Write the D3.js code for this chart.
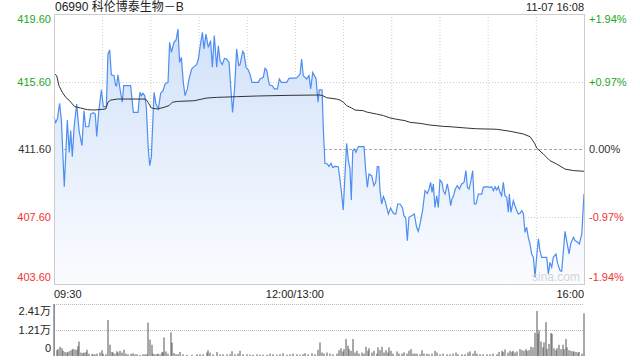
<!DOCTYPE html>
<html>
<head>
<meta charset="utf-8">
<script src="https://d3js.org/d3.v7.min.js"></script>
<style>
  body { margin: 0; background: #fff; }
  text { font-family: Arial, "Liberation Sans", "Noto Sans CJK SC", sans-serif; }
</style>
</head>
<body>
<div id="chart"></div>
<script>
// minutes since 09:30 on the trading clock (lunch break removed), price in HKD
var pricePoints = [
  [0,413.48],[1.0,413.18],[2.1,413.38],[3.5,414.31],[4.6,413.28],[6.4,409.37],[8.3,413.32],[9.5,411.40],
  [10.4,412.69],[11.4,411.15],[12.5,412.88],[14.1,414.27],[15.6,412.69],[17.4,411.80],[18.7,413.87],[19.7,412.92],
  [21.6,412.92],[22.8,413.67],[24.5,413.75],[25.7,413.67],[26.6,412.35],[27.8,413.77],[29.5,415.10],[30.7,414.11],
  [32.6,414.11],[33.6,417.23],[34.7,417.47],[35.7,416.00],[37.4,415.95],[38.4,415.35],[39.0,415.35],[39.8,416.00],
  [41.1,415.16],[42.5,414.37],[43.4,415.35],[47.7,415.35],[49.4,413.77],[52.3,413.77],[53.5,414.96],[54.4,414.76],
  [55.4,414.90],[56.5,414.76],[57.5,414.07],[58.7,411.60],[59.6,410.61],[60.6,411.11],[62.3,414.96],[63.5,414.27],
  [65.0,413.97],[66.4,414.90],[67.9,415.06],[69.1,415.45],[71.0,415.55],[72.0,417.92],[73.1,417.33],[74.7,417.92],
  [76.0,418.06],[77.2,418.71],[78.2,416.74],[79.3,417.03],[80.5,415.55],[81.6,414.76],[83.0,415.16],[84.1,415.75],
  [85.7,416.34],[87.2,416.48],[88.8,416.60],[89.9,416.93],[90.9,417.62],[92.4,418.51],[93.4,417.53],[94.6,418.41],
  [96.1,417.62],[97.5,418.02],[98.6,416.44],[99.8,418.32],[101.3,416.44],[102.3,417.72],[103.4,416.83],[104.8,416.60],
  [106.1,416.97],[107.5,416.93],[109.0,416.74],[110.0,415.35],[111.2,413.77],[112.5,415.29],[113.7,417.53],[115.0,416.54],
  [115.8,416.60],[117.5,417.39],[118.3,417.27],[119.6,416.44],[121.0,416.28],[122.0,416.04],[123.3,415.55],[127.2,415.55],
  [128.3,415.75],[130.3,415.85],[131.4,416.38],[132.4,416.28],[134.1,415.39],[135.9,415.35],[137.2,415.16],[139.1,415.16],
  [140.3,415.75],[141.5,415.55],[142.8,415.55],[144.9,415.55],[146.3,415.79],[151.1,415.81],[153.2,416.04],[154.2,416.93],
  [155.2,415.95],[157.3,415.75],[158.8,415.95],[159.8,415.16],[161.1,416.14],[162.5,415.89],[163.1,415.81],[164.4,414.37],
  [165.2,415.10],[166.9,415.10],[167.7,412.79],[168.7,410.75],[170.2,410.71],[171.2,410.57],[172.5,410.75],[173.5,410.51],
  [175.0,410.57],[177.0,410.55],[178.1,409.76],[179.1,408.93],[180.1,407.99],[181.2,410.12],[182.2,411.94],[183.3,410.91],
  [184.3,410.41],[185.1,408.58],[186.0,411.50],[187.0,411.60],[188.0,411.40],[189.5,411.74],[193.0,411.74],[194.1,410.32],
  [195.1,409.33],[196.1,410.12],[197.8,410.02],[199.2,409.43],[200.3,409.62],[201.3,410.55],[202.2,410.55],[203.0,409.13],
  [204.0,408.34],[205.1,408.78],[206.1,408.54],[208.2,407.75],[209.6,408.10],[210.9,407.85],[211.9,407.75],[212.9,407.75],
  [214.0,408.34],[215.4,408.34],[216.9,408.14],[217.9,407.65],[219.0,407.51],[220.0,406.17],[221.0,407.55],[222.7,407.65],
  [224.3,407.75],[225.8,406.96],[226.8,406.72],[227.9,407.16],[229.5,407.95],[231.0,409.13],[232.5,408.97],[233.5,409.23],
  [234.5,409.62],[235.4,409.03],[236.2,409.53],[237.2,408.14],[238.3,408.83],[239.3,408.14],[240.3,409.76],[241.6,409.62],
  [242.4,409.13],[243.5,408.93],[244.9,409.53],[245.9,409.03],[247.0,408.24],[247.8,408.64],[248.6,408.78],[249.9,409.23],
  [251.1,409.43],[252.4,409.23],[253.8,409.53],[255.3,409.62],[256.5,410.32],[257.4,409.33],[258.4,409.23],[259.4,409.62],
  [260.7,410.32],[261.7,408.34],[262.8,408.34],[264.2,408.93],[266.3,408.93],[267.3,409.33],[269.0,409.37],[271.1,409.33],
  [272.5,409.37],[273.6,409.13],[274.6,409.37],[275.6,409.17],[276.7,409.37],[277.7,409.03],[278.7,408.83],[279.8,409.62],
  [280.8,408.83],[281.9,408.74],[282.9,407.85],[283.5,408.93],[284.5,407.85],[286.0,408.54],[287.0,408.24],[288.1,407.95],
  [289.1,407.75],[290.2,407.79],[291.2,407.95],[292.2,407.79],[293.3,406.66],[294.3,406.96],[295.3,406.37],[296.4,405.97],
  [297.4,405.38],[298.5,405.18],[299.5,404.00],[300.5,405.18],[301.6,406.27],[302.6,405.58],[303.6,405.18],[306.8,405.18],
  [307.8,404.19],[308.8,404.88],[309.9,404.59],[310.9,405.18],[312.6,405.38],[313.4,404.88],[315.1,404.39],[316.1,404.35],
  [317.1,405.48],[318.2,406.72],[319.2,406.17],[320.7,405.38],[321.7,405.97],[323.4,406.37],[324.4,406.17],[326.1,406.07],
  [327.1,405.97],[328.6,406.56],[330,408.93]
];

var avgPoints = [
  [0,416.08],[1.7,415.95],[3.1,415.35],[5.2,414.96],[7.3,414.66],[9.3,414.50],[11.4,414.27],[12.9,414.11],
  [16.6,414.03],[20.8,413.93],[24.9,413.91],[32.2,413.97],[33.6,414.37],[35.3,414.50],[39.4,414.56],[57.1,414.56],
  [58.5,414.37],[60.6,414.03],[64.3,413.97],[68.5,414.07],[71.6,414.17],[73.7,414.37],[76.8,414.42],[87.2,414.46],
  [95.1,414.62],[101.3,414.66],[113.7,414.70],[126.2,414.74],[146.9,414.78],[165.6,414.80],[167.7,414.74],[169.8,414.64],
  [176.0,414.56],[178.1,414.50],[180.2,414.37],[182.2,414.17],[185.3,414.03],[187.4,413.91],[192.6,413.87],[194.7,413.79],
  [200.9,413.67],[205.1,413.58],[209.2,413.44],[213.4,413.36],[218.5,413.28],[221.7,413.18],[227.9,413.12],[234.1,413.02],
  [242.4,412.94],[246.6,412.92],[257.0,412.84],[263.2,412.80],[275.6,412.77],[284.0,412.65],[292.2,412.49],[296.4,412.33],
  [299.5,411.90],[300.5,411.66],[304.7,411.30],[308.8,410.91],[313.0,410.71],[318.2,410.41],[323.4,410.32],[330,410.28]
];

// volume in 万 shares
var volumeBars = [
  [0,2.41],[1.7,0.27],[2.7,0.32],[3.9,0.43],[4.8,0.36],[5.8,0.24],[7.0,0.19],[7.9,0.16],[8.9,0.19],[10.0,0.24],
  [11.0,0.29],[12.0,0.33],[13.1,0.30],[14.1,0.29],[15.1,0.46],[15.8,0.67],[16.8,0.16],[17.8,0.13],[18.9,0.16],[19.9,0.17],
  [20.7,0.29],[22.0,0.11],[23.5,0.08],[24.5,0.08],[25.5,0.08],[26.6,0.11],[28.6,0.16],[29.7,0.27],[30.7,0.11],[32.4,0.08],
  [33.8,1.67],[34.9,0.52],[35.9,0.19],[36.9,0.16],[38.0,0.11],[39.0,0.22],[40.0,0.16],[41.1,0.24],[42.1,0.16],[43.6,0.29],
  [44.8,0.11],[46.3,0.08],[47.7,0.10],[49.4,0.13],[50.4,0.08],[51.9,0.08],[53.5,0.05],[55.2,0.08],[56.7,0.08],[57.7,0.08],
  [58.7,1.55],[59.8,0.76],[60.8,0.52],[61.8,0.11],[62.9,0.08],[63.9,0.08],[64.9,0.11],[66.0,0.08],[67.0,0.19],[68.0,0.16],
  [68.7,0.86],[69.7,0.21],[71.2,0.11],[72.8,1.09],[73.7,0.62],[74.7,0.14],[76.0,0.08],[77.4,0.08],[78.6,0.19],[80.1,0.08],
  [82.6,0.06],[85.7,0.06],[88.8,0.08],[90.9,0.08],[93.0,0.08],[95.1,0.16],[96.1,0.27],[97.1,0.16],[99.2,0.08],[101.3,0.19],
  [103.4,0.08],[105.4,0.08],[107.5,0.08],[109.6,0.08],[111.0,0.22],[112.7,0.08],[114.8,0.11],[115.8,0.24],[117.9,0.08],[120.0,0.08],
  [122.0,0.06],[124.1,0.06],[126.2,0.08],[128.3,0.06],[130.3,0.06],[132.4,0.06],[134.5,0.11],[136.5,0.08],[138.6,0.06],[140.7,0.08],
  [142.8,0.13],[144.9,0.06],[146.9,0.08],[149.0,0.11],[151.1,0.08],[153.2,0.06],[155.2,0.08],[156.3,0.13],[158.3,0.08],[160.4,0.13],
  [162.5,0.08],[164.6,0.29],[165.6,0.63],[166.7,0.16],[168.1,0.11],[169.8,0.16],[171.8,0.11],[173.9,0.08],[176.0,0.11],[177.4,0.27],
  [178.5,0.36],[179.7,0.21],[180.6,0.32],[181.6,0.79],[182.8,0.48],[183.9,0.32],[184.9,0.24],[186.4,0.79],[187.4,0.16],[188.9,0.24],
  [190.1,0.11],[191.6,0.16],[193.0,0.11],[194.3,0.43],[195.3,0.24],[196.3,0.36],[197.8,0.16],[199.2,0.24],[200.9,0.11],[201.9,0.40],
  [203.0,0.27],[204.2,0.43],[205.5,0.16],[206.5,0.27],[207.8,0.16],[208.8,0.40],[209.8,0.24],[211.3,0.11],[213.4,0.21],[214.8,0.11],
  [216.5,0.11],[218.1,0.17],[219.6,0.11],[221.0,0.24],[222.1,0.32],[223.3,0.11],[224.8,0.11],[226.2,0.11],[227.9,0.08],[229.3,0.27],
  [230.6,0.11],[232.0,0.11],[233.5,0.08],[235.1,0.11],[237.2,0.24],[238.3,0.16],[240.3,0.08],[242.4,0.11],[244.5,0.08],[246.6,0.08],
  [248.2,0.11],[250.3,0.16],[251.8,0.08],[253.8,0.08],[255.9,0.08],[258.0,0.16],[259.0,0.21],[260.7,0.11],[262.1,0.24],[263.6,0.11],
  [265.2,0.08],[267.3,0.08],[269.4,0.08],[271.5,0.08],[273.5,0.11],[275.6,0.08],[277.3,0.19],[278.7,0.24],[279.8,0.19],[280.8,0.30],
  [282.5,0.16],[283.9,0.24],[285.0,0.19],[286.0,0.24],[287.0,0.16],[288.1,0.21],[290.1,0.32],[291.2,0.27],[292.6,0.24],[293.9,0.32],
  [294.7,0.24],[295.9,0.27],[297.0,0.43],[298.5,0.40],[299.3,1.08],[300.5,2.09],[301.1,1.03],[302.2,1.19],[303.2,0.67],[304.3,0.40],
  [305.3,0.63],[306.1,1.57],[307.2,0.33],[308.2,0.56],[309.2,1.06],[310.3,1.03],[311.3,0.36],[312.4,0.27],[313.4,0.36],[314.6,0.52],
  [315.7,0.32],[316.7,0.52],[317.5,0.32],[318.6,0.79],[319.6,0.40],[320.9,0.27],[321.9,0.24],[322.9,0.21],[324.0,0.21],[325.0,0.19],
  [326.1,0.16],[327.1,0.19],[328.5,0.11],[330,1.98]
];

var prevClose = 411.60;
var priceTicks = [419.60, 415.60, 411.60, 407.60, 403.60];
var pctTicks = ["+1.94%", "+0.97%", "0.00%", "-0.97%", "-1.94%"];
var volTicks = [2.41, 1.21, 0];
var volTickLabels = ["2.41万", "1.21万", "0"];
var timeLabels = [[0, "09:30"], [150, "12:00/13:00"], [330, "16:00"]];
var title = "06990 科伦博泰生物－B";
var stamp = "11-07 16:08";

var W = 640, H = 360;
var left = 54, right = 584;
var pTop = 14, pBottom = 284;
var vTop = 304, vBottom = 356;

var green = "#22a822", red = "#f03434", dark = "#333";

var svg = d3.select("#chart").append("svg")
  .attr("width", W).attr("height", H);

var x = d3.scaleLinear().domain([0, 330]).range([left, right]);
var y = d3.scaleLinear().domain([403.60, 419.60]).range([pBottom, pTop]);
var yv = d3.scaleLinear().domain([0, 2.41]).range([vBottom, vTop]);

function tickColor(v) { return v > prevClose ? green : (v < prevClose ? red : dark); }

// gradient for the area under the price
var grad = svg.append("defs").append("linearGradient")
  .attr("id", "fillGrad").attr("gradientUnits", "userSpaceOnUse")
  .attr("x1", 0).attr("x2", 0).attr("y1", pTop).attr("y2", pBottom);
grad.append("stop").attr("offset", "0%").attr("stop-color", "#cfe0f9");
grad.append("stop").attr("offset", "100%").attr("stop-color", "#fbfcff");

// vertical gridlines every 30 minutes
var gx = d3.range(30, 330, 30);
svg.append("g").selectAll("line").data(gx).enter().append("line")
  .attr("x1", function (d) { return x(d) + 0.5; }).attr("x2", function (d) { return x(d) + 0.5; })
  .attr("y1", pTop).attr("y2", pBottom)
  .attr("stroke", "#ccc").attr("stroke-dasharray", "1,2");

// horizontal gridlines
svg.append("g").selectAll("line").data(priceTicks.slice(1, 4)).enter().append("line")
  .attr("x1", left).attr("x2", right)
  .attr("y1", function (d) { return Math.round(y(d)) + 0.5; })
  .attr("y2", function (d) { return Math.round(y(d)) + 0.5; })
  .attr("stroke", function (d) { return d === prevClose ? "#aaa" : "#ccc"; })
  .attr("stroke-dasharray", function (d) { return d === prevClose ? "3,2" : "1,2"; });

// area + price line
var area = d3.area()
  .x(function (d) { return x(d[0]); })
  .y0(pBottom)
  .y1(function (d) { return y(d[1]); });
svg.append("path").datum(pricePoints).attr("d", area).attr("fill", "url(#fillGrad)");

var line = d3.line()
  .x(function (d) { return x(d[0]); })
  .y(function (d) { return y(d[1]); });
svg.append("path").datum(pricePoints).attr("d", line)
  .attr("fill", "none").attr("stroke", "#4d8ef0").attr("stroke-width", 1.2);

svg.append("path").datum(avgPoints).attr("d", line)
  .attr("fill", "none").attr("stroke", "#333").attr("stroke-width", 1);

// watermark
svg.append("text").attr("x", right - 4).attr("y", pBottom - 3)
  .attr("text-anchor", "end").attr("font-size", 12).attr("fill", "#d4d4d4")
  .text("sina.com");

// frame
svg.append("rect").attr("x", left + 0.5).attr("y", pTop + 0.5)
  .attr("width", right - left).attr("height", pBottom - pTop)
  .attr("fill", "none").attr("stroke", "#ccc");

// left price labels
svg.append("g").selectAll("text").data(priceTicks).enter().append("text")
  .attr("x", left - 3)
  .attr("y", function (d, i) {
    var yy = y(d);
    if (i === 0) return yy + 9;
    if (i === priceTicks.length - 1) return yy - 3;
    return yy + 4;
  })
  .attr("text-anchor", "end").attr("font-size", 11)
  .attr("fill", function (d) { return tickColor(d); })
  .text(function (d) { return d.toFixed(2); });

// right percent labels
svg.append("g").selectAll("text").data(priceTicks).enter().append("text")
  .attr("x", right + 5)
  .attr("y", function (d, i) {
    var yy = y(d);
    if (i === 0) return yy + 9;
    if (i === priceTicks.length - 1) return yy - 3;
    return yy + 4;
  })
  .attr("font-size", 11)
  .attr("fill", function (d) { return tickColor(d); })
  .text(function (d, i) { return pctTicks[i]; });

// title and timestamp
svg.append("text").attr("x", left + 1).attr("y", 11).attr("font-size", 12).attr("fill", "#222").text(title);
svg.append("text").attr("x", right).attr("y", 11).attr("font-size", 11).attr("fill", "#222")
  .attr("text-anchor", "end").text(stamp);

// time labels
svg.append("g").selectAll("text").data(timeLabels).enter().append("text")
  .attr("x", function (d) { return x(d[0]); })
  .attr("y", 298)
  .attr("font-size", 11).attr("fill", "#222")
  .attr("text-anchor", function (d, i) { return i === 0 ? "start" : (i === timeLabels.length - 1 ? "end" : "middle"); })
  .text(function (d) { return d[1]; });

// volume panel
svg.append("g").selectAll("line").data(volTicks.slice(0, 2)).enter().append("line")
  .attr("x1", left).attr("x2", right)
  .attr("y1", function (d) { return Math.round(yv(d)) + 0.5; })
  .attr("y2", function (d) { return Math.round(yv(d)) + 0.5; })
  .attr("stroke", "#bbb").attr("stroke-dasharray", "1,1");

svg.append("line").attr("x1", left + 0.5).attr("x2", left + 0.5)
  .attr("y1", vTop).attr("y2", vBottom).attr("stroke", "#ccc");

svg.append("g").selectAll("rect").data(volumeBars).enter().append("rect")
  .attr("x", function (d) { return Math.round(x(d[0])) - 0.5; })
  .attr("width", 1)
  .attr("y", function (d) { return yv(d[1]); })
  .attr("height", function (d) { return vBottom - yv(d[1]); })
  .attr("fill", "#555");

svg.append("g").selectAll("text").data(volTicks).enter().append("text")
  .attr("x", left - 3)
  .attr("y", function (d, i) {
    var yy = yv(d);
    if (i === 0) return yy + 11;
    if (i === volTicks.length - 1) return yy - 4;
    return yy + 4;
  })
  .attr("text-anchor", "end").attr("font-size", 11).attr("fill", "#222")
  .text(function (d, i) { return volTickLabels[i]; });
</script>
</body>
</html>
